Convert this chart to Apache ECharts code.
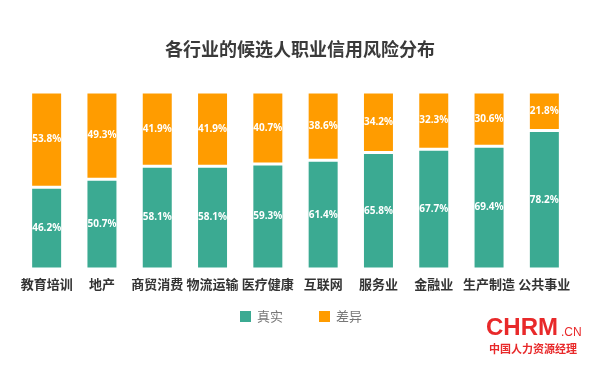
<!DOCTYPE html>
<html><head><meta charset="utf-8">
<script src="https://cdn.jsdelivr.net/npm/echarts@6/dist/echarts.min.js"></script>
<style>html,body{margin:0;padding:0;background:#fff}#c{width:600px;height:365px}</style>
</head><body><div id="c"></div>
<script>
const categories = ['教育培训','地产','商贸消费','物流运输','医疗健康','互联网','服务业','金融业','生产制造','公共事业'];
const realValues = [46.2,50.7,58.1,58.1,59.3,61.4,65.8,67.7,69.4,78.2];
const diffValues = [53.8,49.3,41.9,41.9,40.7,38.6,34.2,32.3,30.6,21.8];
const seriesNames = ['真实','差异'];
const titleText = '各行业的候选人职业信用风险分布';

const chart = echarts.init(document.getElementById('c'), null, {renderer:'canvas'});
const font = '"Noto Sans CJK SC","Noto Sans",sans-serif';
const lbl = {show:true, position:'inside', color:'#fff', fontSize:10, fontWeight:'bold', fontFamily:'"Noto Sans",sans-serif', formatter:p=>p.value.toFixed(1)+'%'};
chart.setOption({
  animation:false,
  title:{text:titleText, left:'center', top:35, textStyle:{fontSize:18, fontWeight:'bold', color:'#3a3a3a', fontFamily:font}},
  legend:{data:seriesNames, bottom:36, left:'center', itemWidth:13, itemHeight:13, itemGap:34, icon:'rect',
    textStyle:{color:'#777', fontSize:13, fontFamily:font}},
  grid:{left:19, right:28, top:92, bottom:96, containLabel:false},
  xAxis:{type:'category', data:categories, axisLine:{show:false}, axisTick:{show:false},
    axisLabel:{color:'#333', fontSize:13, fontWeight:'bold', fontFamily:font, margin:9, interval:0}},
  yAxis:{type:'value', min:0, max:100, show:false, splitLine:{show:false}},
  series:[
    {name:seriesNames[0], type:'bar', stack:'a', data:realValues, barWidth:32,
     itemStyle:{color:'#3BAA92', borderColor:'#fff', borderWidth:1.5}, label:lbl},
    {name:seriesNames[1], type:'bar', stack:'a', data:diffValues, barWidth:32,
     itemStyle:{color:'#FF9C00', borderColor:'#fff', borderWidth:1.5}, label:lbl}
  ],
  graphic:[
    {type:'text', left:486, top:316, style:{text:'CHRM', fill:'#e8292a', font:'bold 24px "Liberation Sans",Arial,sans-serif'}},
    {type:'text', left:561, top:327, style:{text:'.CN', fill:'#e8292a', font:'12px "Liberation Sans",Arial,sans-serif'}},
    {type:'text', left:489, top:343, style:{text:'中国人力资源经理', fill:'#e8292a', font:'bold 11px "Noto Sans CJK SC",sans-serif'}}
  ]
});
</script></body></html>
